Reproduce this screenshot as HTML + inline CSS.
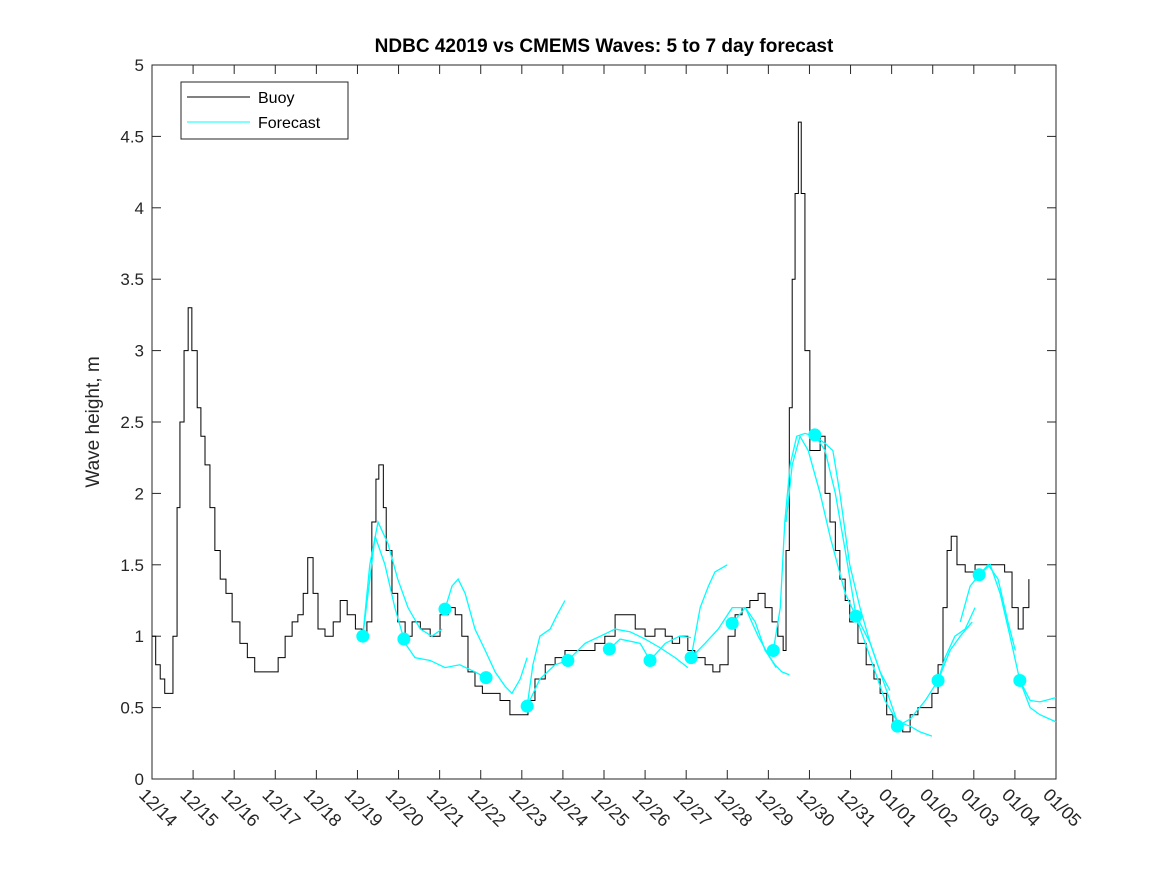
<!DOCTYPE html>
<html><head><meta charset="utf-8"><style>
body{margin:0;background:#fff;}
svg text{font-family:"Liberation Sans","DejaVu Sans",sans-serif;}
</style></head><body>
<svg id="chart" width="1167" height="875" xmlns="http://www.w3.org/2000/svg">
<rect width="1167" height="875" fill="#fff"/>
<text x="604" y="52" text-anchor="middle" font-size="19" font-weight="bold" fill="#000">NDBC 42019 vs CMEMS Waves: 5 to 7 day forecast</text>
<text transform="translate(99,422) rotate(-90)" text-anchor="middle" font-size="19" fill="#262626">Wave height, m</text>
<g id="plot"></g>
<g id="legend">
<rect x="181" y="82" width="167" height="57" fill="#fff" stroke="#262626" stroke-width="1"/>
<line x1="187" y1="97" x2="250" y2="97" stroke="#000" stroke-width="1"/>
<text x="258" y="103" font-size="16" fill="#000">Buoy</text>
<line x1="187" y1="122" x2="250" y2="122" stroke="#00ffff" stroke-width="1"/>
<text x="258" y="128" font-size="16" fill="#000">Forecast</text>
</g>
</svg>
<script>
const xTickLabels=["12/14","12/15","12/16","12/17","12/18","12/19","12/20","12/21","12/22","12/23","12/24","12/25","12/26","12/27","12/28","12/29","12/30","12/31","01/01","01/02","01/03","01/04","01/05"];
const yTicks=[0,0.5,1,1.5,2,2.5,3,3.5,4,4.5,5];
const yTickLabels=["0","0.5","1","1.5","2","2.5","3","3.5","4","4.5","5"];
const buoyDay=[0,0.09,0.20,0.31,0.44,0.51,0.61,0.68,0.78,0.88,0.97,1.10,1.19,1.29,1.41,1.53,1.66,1.80,1.95,2.14,2.32,2.50,2.68,2.87,3.07,3.24,3.41,3.55,3.68,3.79,3.92,4.04,4.21,4.41,4.58,4.75,4.95,5.11,5.23,5.35,5.45,5.52,5.63,5.70,5.84,5.98,6.16,6.33,6.53,6.77,7.01,7.21,7.38,7.54,7.69,7.86,8.04,8.22,8.47,8.71,8.96,9.15,9.32,9.57,9.81,10.05,10.30,10.54,10.78,11.02,11.27,11.51,11.76,12.00,12.24,12.49,12.66,12.84,13.04,13.21,13.46,13.65,13.82,14.02,14.19,14.36,14.55,14.75,14.92,15.09,15.23,15.36,15.43,15.51,15.58,15.65,15.73,15.80,15.89,16.01,16.13,16.26,16.38,16.50,16.63,16.74,16.87,16.98,17.18,17.38,17.57,17.72,17.88,18.03,18.16,18.27,18.45,18.64,18.82,18.98,19.13,19.25,19.35,19.45,19.59,19.79,20.03,20.27,20.51,20.75,20.93,21.08,21.20,21.34];
const buoyHs=[1.0,0.8,0.7,0.6,0.6,1.0,1.9,2.5,3.0,3.3,3.0,2.6,2.4,2.2,1.9,1.6,1.4,1.3,1.1,0.95,0.85,0.75,0.75,0.75,0.85,1.0,1.1,1.15,1.3,1.55,1.3,1.05,1.0,1.1,1.25,1.15,1.05,1.0,1.1,1.8,2.1,2.2,1.9,1.6,1.3,1.1,1.0,1.1,1.05,1.0,1.15,1.2,1.15,1.0,0.75,0.65,0.6,0.6,0.55,0.45,0.45,0.55,0.7,0.8,0.85,0.9,0.9,0.9,0.95,1.0,1.15,1.15,1.05,1.0,1.05,1.0,0.95,1.0,0.9,0.85,0.8,0.75,0.8,1.0,1.15,1.2,1.25,1.3,1.2,1.1,1.0,0.9,1.6,2.6,3.5,4.1,4.6,4.1,3.0,2.3,2.3,2.4,2.0,1.8,1.6,1.4,1.25,1.1,0.95,0.8,0.7,0.6,0.45,0.4,0.35,0.33,0.45,0.5,0.5,0.6,0.8,1.2,1.6,1.7,1.5,1.45,1.5,1.5,1.5,1.45,1.2,1.05,1.2,1.4];
const fcA_day=[5.13,5.30,5.50,5.74,5.98,6.23,6.53,6.81,7.06];
const fcA_hs=[1.0,1.5,1.8,1.65,1.4,1.2,1.05,1.0,1.05];
const fcB_day=[5.13,5.43,5.67,5.91,6.16,6.40,6.77,7.13,7.49,7.86,8.13];
const fcB_hs=[1.0,1.7,1.5,1.2,0.95,0.85,0.83,0.78,0.8,0.75,0.71];
const fcC_day=[7.13,7.30,7.45,7.62,7.86,8.11,8.35,8.59,8.76,8.96,9.13];
const fcC_hs=[1.19,1.35,1.4,1.3,1.05,0.9,0.75,0.65,0.6,0.7,0.85];
const fcE_day=[9.13,9.27,9.44,9.69,9.86,10.05];
const fcE_hs=[0.51,0.8,1.0,1.05,1.15,1.25];
const fcF_day=[9.13,9.44,9.81,10.12,10.54,10.91,11.27,11.64,12.00,12.36,12.73,13.04];
const fcF_hs=[0.51,0.7,0.8,0.83,0.95,1.0,1.05,1.03,0.98,0.92,0.85,0.78];
const fcG_day=[11.13,11.39,11.88,12.12,12.49,12.84,13.12];
const fcG_hs=[0.91,0.98,0.95,0.83,0.95,1.0,0.99];
const fcH_day=[13.12,13.34,13.54,13.70,14.00];
const fcH_hs=[0.85,1.2,1.35,1.45,1.5];
const fcI_day=[13.12,13.46,13.78,14.12,14.44,14.75,15.04,15.19];
const fcI_hs=[0.85,0.95,1.05,1.2,1.2,1.0,0.85,0.78];
const fcJ_day=[14.12,14.44,14.68,14.92,15.16,15.33,15.51];
const fcJ_hs=[1.09,1.2,1.1,0.9,0.8,0.75,0.73];
const fcK_day=[15.12,15.29,15.40,15.53,15.69,15.89,16.13,16.38,16.57,16.74,16.98,17.23,17.48,17.72,17.96];
const fcK_hs=[0.9,1.2,1.8,2.2,2.4,2.42,2.4,2.35,2.3,2.0,1.5,1.2,0.95,0.75,0.62];
const fcL_day=[15.43,15.58,15.77,15.97,16.26,16.50,16.87,17.13,17.48,17.84,18.14,18.45,18.69,18.98];
const fcL_hs=[1.8,2.2,2.4,2.3,2.0,1.7,1.3,1.14,0.85,0.55,0.4,0.37,0.33,0.3];
const fcM_day=[16.13,16.38,16.63,16.87,17.13,17.48,17.84,18.14];
const fcM_hs=[2.41,2.3,2.0,1.6,1.15,0.95,0.65,0.4];
const fcN_day=[18.14,18.45,18.82,19.13,19.42,19.67,19.96];
const fcN_hs=[0.37,0.42,0.55,0.69,0.9,1.0,1.1];
const fcO_day=[19.13,19.30,19.54,19.79,20.03];
const fcO_hs=[0.69,0.85,1.0,1.05,1.2];
const fcP_day=[20.13,20.40,20.64,20.88,21.12,21.37,21.61,22.0];
const fcP_hs=[1.43,1.5,1.3,1.0,0.69,0.55,0.54,0.57];
const fcQ_day=[19.67,19.91,20.13,20.35,20.59,20.83,21.01];
const fcQ_hs=[1.1,1.35,1.43,1.5,1.4,1.1,0.9];
const fcR_day=[21.12,21.37,21.61,22.0];
const fcR_hs=[0.69,0.5,0.45,0.4];
const dotDay=[5.13,6.13,7.13,8.13,9.13,10.12,11.13,12.12,13.12,14.12,15.12,16.13,17.13,18.14,19.13,20.13,21.12];
const dotHs=[1.0,0.98,1.19,0.71,0.51,0.83,0.91,0.83,0.85,1.09,0.90,2.41,1.14,0.37,0.69,1.43,0.69];

const L=152,R=1056,T=65,B=779,NS="http://www.w3.org/2000/svg";
const NDAYS=22;
const xS=d=>L+(R-L)*d/NDAYS;
const yS=v=>B-(B-T)*v/5;
const plot=document.getElementById('plot');
function mk(tag,attrs){const e=document.createElementNS(NS,tag);for(const k in attrs)e.setAttribute(k,attrs[k]);plot.appendChild(e);return e;}

const ax=mk('rect',{x:L,y:T,width:R-L,height:B-T,fill:'#fff',stroke:'#262626','stroke-width':1});



xTickLabels.forEach((lab,i)=>{
  const x=xS(i);
  const t1=mk('line',{x1:x,y1:B,x2:x,y2:B-9,stroke:'#262626'});
  
  
  const t2=mk('line',{x1:x,y1:T,x2:x,y2:T+9,stroke:'#262626'});
  
  
  const tx=mk('text',{x:0,y:0,'font-size':18,fill:'#262626',transform:`translate(${x-14},${B+17}) rotate(45)`});
  tx.textContent=lab;
  
  
});
yTicks.forEach((v,i)=>{
  const y=yS(v);
  const t1=mk('line',{x1:L,y1:y,x2:L+9,y2:y,stroke:'#262626'});
  
  
  const t2=mk('line',{x1:R,y1:y,x2:R-9,y2:y,stroke:'#262626'});
  
  
  const tx=mk('text',{x:L-8,y:y+6,'font-size':17,fill:'#262626','text-anchor':'end'});
  tx.textContent=yTickLabels[i];
  
  
});

let d='';
buoyDay.forEach((t,i)=>{
  const x=xS(t),y=yS(buoyHs[i]);
  if(i===0)d+=`M${x},${y}`;else d+=`H${x}V${y}`;
});
const bp=mk('path',{d:d,fill:'none',stroke:'#000','stroke-width':1});



const segs=[[fcA_day,fcA_hs],[fcB_day,fcB_hs],[fcC_day,fcC_hs],[fcE_day,fcE_hs],[fcF_day,fcF_hs],[fcG_day,fcG_hs],[fcH_day,fcH_hs],[fcI_day,fcI_hs],[fcJ_day,fcJ_hs],[fcK_day,fcK_hs],[fcL_day,fcL_hs],[fcM_day,fcM_hs],[fcN_day,fcN_hs],[fcO_day,fcO_hs],[fcP_day,fcP_hs],[fcQ_day,fcQ_hs],[fcR_day,fcR_hs]];
segs.forEach(([ds,hs])=>{
  const pts=ds.map((t,i)=>`${xS(t)},${yS(hs[i])}`).join(' ');
  const p=mk('polyline',{points:pts,fill:'none',stroke:'#00ffff','stroke-width':1.3});
  
  
});
dotDay.forEach((t,i)=>{
  const c=mk('circle',{cx:xS(t),cy:yS(dotHs[i]),r:6.5,fill:'#00ffff'});
  
  
});
</script>
</body></html>
